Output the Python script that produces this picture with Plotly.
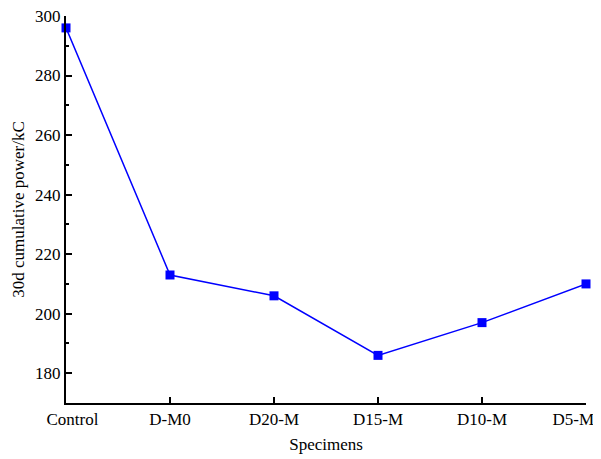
import plotly.graph_objects as go

categories = ["Control", "D-M0", "D20-M", "D15-M", "D10-M", "D5-M"]
power_kc = [296, 213, 206, 186, 197, 210]
y_ticks = [180, 200, 220, 240, 260, 280, 300]

# edge labels are nudged inward like the original figure
tick_text = ["\u00a0\u00a0\u00a0" + categories[0]] + categories[1:-1] + [categories[-1] + "\u00a0" * 6]

fig = go.Figure()
fig.add_trace(go.Scatter(
    x=categories, y=power_kc, mode="lines+markers",
    line=dict(color="#0000ff", width=1.5),
    marker=dict(symbol="square", size=9, color="#0000ff"),
    cliponaxis=False, showlegend=False,
))

font = dict(family="Liberation Serif, Times New Roman, serif", size=17, color="black")
fig.update_layout(
    width=593, height=451,
    margin=dict(l=58, r=15, t=8, b=56),
    plot_bgcolor="white", paper_bgcolor="white",
    font=font,
    xaxis=dict(
        type="category", range=[0, 5], automargin=False,
        tickvals=categories, ticktext=tick_text, ticklabeloverflow="allow",
        showline=True, linecolor="black", linewidth=2,
        ticks="inside", ticklen=6, tickwidth=1.5, tickcolor="black",
        showgrid=False, zeroline=False,
        title=dict(text="Specimens", font=font, standoff=10),
    ),
    yaxis=dict(
        range=[170, 300], tickvals=y_ticks, automargin=False, ticklabeloverflow="allow",
        showline=True, linecolor="black", linewidth=2,
        ticks="inside", ticklen=6, tickwidth=1.5, tickcolor="black",
        minor=dict(ticks="inside", dtick=10, tick0=170, ticklen=3, tickwidth=1.5, tickcolor="black", showgrid=False),
        showgrid=False, zeroline=False,
        title=dict(text="30d cumulative power/kC", font=font, standoff=6),
    ),
)
fig.write_html("out.html")
